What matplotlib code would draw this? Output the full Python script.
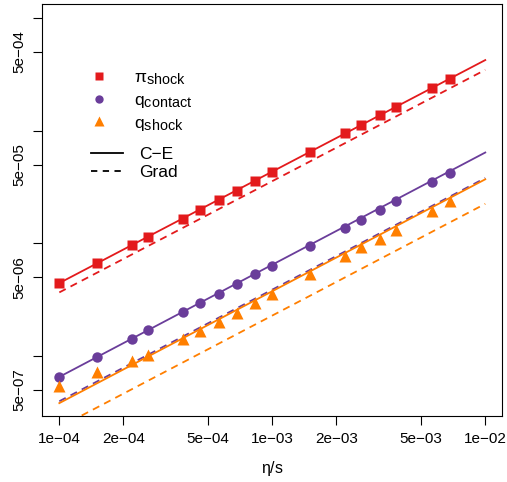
import matplotlib
matplotlib.use("Agg")
import matplotlib.pyplot as plt
import matplotlib._mathtext as mathtext_internal
from matplotlib.lines import Line2D
from matplotlib.ticker import FixedLocator, FixedFormatter, NullLocator

plt.rcParams['font.family'] = ['Liberation Sans', 'DejaVu Sans']
plt.rcParams['mathtext.fontset'] = 'custom'
plt.rcParams['mathtext.rm'] = 'Liberation Sans'
plt.rcParams['mathtext.it'] = 'Liberation Sans:italic'
plt.rcParams['font.size'] = 11
# R plotmath subscripts are bigger than matplotlib's default 0.7
mathtext_internal.SHRINK_FACTOR = 0.83

# ---- data ----
eta = [1e-4, 1.5e-4, 2.2e-4, 2.6e-4, 3.8e-4, 4.6e-4, 5.6e-4, 6.8e-4, 8.3e-4,
       1e-3, 1.5e-3, 2.2e-3, 2.6e-3, 3.2e-3, 3.8e-3, 5.6e-3, 6.8e-3]

pi_shock = [4.43e-6, 6.67e-6, 9.59e-6, 1.135e-5, 1.64e-5, 1.97e-5, 2.42e-5, 2.91e-5, 3.56e-5,
            4.28e-5, 6.45e-5, 9.53e-5, 1.12e-4, 1.38e-4, 1.62e-4, 2.39e-4, 2.87e-4]
q_contact = [6.52e-7, 9.75e-7, 1.42e-6, 1.68e-6, 2.43e-6, 2.94e-6, 3.56e-6, 4.31e-6, 5.28e-6,
             6.31e-6, 9.38e-6, 1.353e-5, 1.61e-5, 1.97e-5, 2.35e-5, 3.47e-5, 4.20e-5]
q_shock = [5.35e-7, 7.12e-7, 9.05e-7, 1.02e-6, 1.41e-6, 1.65e-6, 2.01e-6, 2.40e-6, 2.94e-6,
           3.56e-6, 5.28e-6, 7.74e-6, 9.18e-6, 1.10e-5, 1.32e-5, 1.95e-5, 2.38e-5]

# theory lines (C-E solid, Grad dashed), evaluated at the ends of the range
eta_line = [1e-4, 1e-2]
pi_ce = [4.43e-6, 4.24e-4]
pi_grad = [3.66e-6, 3.47e-4]
qc_ce = [6.5e-7, 6.4e-5]
qc_grad = [3.95e-7, 3.8e-5]
qs_ce = [3.8e-7, 3.7e-5]
qs_grad = [2.32e-7, 2.24e-5]

xticks = [1e-4, 2e-4, 5e-4, 1e-3, 2e-3, 5e-3, 1e-2]
xticklabels = ["1e\u221204", "2e\u221204", "5e\u221204", "1e\u221203",
               "2e\u221203", "5e\u221203", "1e\u221202"]
yticks = [5e-7, 1e-6, 5e-6, 1e-5, 5e-5, 1e-4, 5e-4, 1e-3]
yticklabels = ["5e\u221207", "", "5e\u221206", "", "5e\u221205", "", "5e\u221204", ""]

RED, PURPLE, ORANGE = '#E31A1C', '#6A3D9A', '#FF7F00'

fig = plt.figure(figsize=(5.07, 4.82), dpi=100)
ax = fig.add_axes([0.0834, 0.1376, 0.9073, 0.8541])
ax.set_xscale('log')
ax.set_yscale('log')

lw = 1.3
dash = (0, (4, 3))
ax.plot(eta_line, pi_ce, color=RED, lw=lw, zorder=2)
ax.plot(eta_line, pi_grad, color=RED, lw=lw, ls=dash, zorder=2)
ax.plot(eta_line, qc_ce, color=PURPLE, lw=lw, zorder=2)
ax.plot(eta_line, qc_grad, color=PURPLE, lw=lw, ls=dash, zorder=2)
ax.plot(eta_line, qs_ce, color=ORANGE, lw=lw, zorder=2)
ax.plot(eta_line, qs_grad, color=ORANGE, lw=lw, ls=dash, zorder=2)

ax.plot(eta, pi_shock, 's', color=RED, ms=7, mec='none', zorder=3)
ax.plot(eta, q_contact, 'o', color=PURPLE, ms=7.5, mec='none', zorder=3)
ax.plot(eta, q_shock, '^', color=ORANGE, ms=9, mec='none', zorder=3)

ax.set_xlim(8.318e-5, 1.202e-2)
ax.set_ylim(2.94e-7, 1.335e-3)

ax.xaxis.set_major_locator(FixedLocator(xticks))
ax.xaxis.set_major_formatter(FixedFormatter(xticklabels))
ax.xaxis.set_minor_locator(NullLocator())
ax.yaxis.set_major_locator(FixedLocator(yticks))
ax.yaxis.set_major_formatter(FixedFormatter(yticklabels))
ax.yaxis.set_minor_locator(NullLocator())
ax.tick_params(axis='both', direction='out', length=6.3, width=0.8, pad=5.5,
               labelsize=11, color='black')
for lab in ax.get_yticklabels():
    lab.set_rotation(90)
    lab.set_va('center')
for s in ax.spines.values():
    s.set_linewidth(0.8)

ax.set_xlabel(r'$\mathrm{\eta/s}$', fontsize=11.5, labelpad=9)

# legend: markers and line styles as two stacked groups
fs_leg = 12.5
mk_handles = [
    Line2D([], [], ls='none', marker='s', color=RED, ms=5.5, mec='none'),
    Line2D([], [], ls='none', marker='o', color=PURPLE, ms=6, mec='none'),
    Line2D([], [], ls='none', marker='^', color=ORANGE, ms=7, mec='none'),
]
mk_labels = [r'$\mathrm{\pi}_{\mathrm{shock}}$', r'$\mathrm{q}_{\mathrm{contact}}$',
             r'$\mathrm{q}_{\mathrm{shock}}$']
leg1 = ax.legend(mk_handles, mk_labels, loc='upper left', bbox_to_anchor=(0.1048, 0.839),
                 frameon=False, borderpad=0, borderaxespad=0, handlelength=1.0,
                 handletextpad=1.5, labelspacing=0.32, fontsize=fs_leg)
ax.add_artist(leg1)
ln_handles = [Line2D([], [], color='black', lw=lw),
              Line2D([], [], color='black', lw=lw, ls=(0, (3.5, 3)))]
ax.legend(ln_handles, ['C\u2212E', 'Grad'], loc='upper left', bbox_to_anchor=(0.1067, 0.653),
          frameon=False, borderpad=0, borderaxespad=0, handlelength=1.84,
          handletextpad=0.92, labelspacing=0.19, fontsize=fs_leg)

fig.savefig('out.png', dpi=100)
